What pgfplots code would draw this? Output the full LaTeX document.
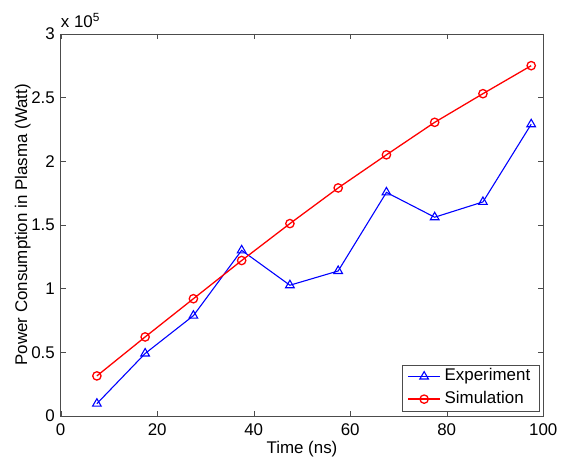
\documentclass[border=0pt]{standalone}
\usepackage{fontspec}
\setmainfont{Liberation Sans}
\usepackage{pgfplots}
\pgfplotsset{compat=1.18}

\begin{document}
\fontsize{17}{20}\selectfont
\begin{tikzpicture}
\begin{axis}[
  scale only axis,
  width=485pt, height=384pt,
  xmin=0, xmax=100, ymin=0, ymax=300000,
  xtick={0,20,40,60,80,100},
  ytick={0,50000,100000,150000,200000,250000,300000},
  scaled y ticks=base 10:-5,
  ytick scale label code/.code={x 10\textsuperscript{5}},
  every y tick scale label/.style={at={(rel axis cs:0,1)},anchor=base west,inner sep=0pt,yshift=6pt},
  /pgf/number format/assume math mode=true,
  tick label style={font=\fontsize{17}{20}\selectfont},
  xticklabel style={yshift=-2pt},
  tick align=inside,
  major tick length=5pt,
  axis line style={black!70},
  tick style={black!70},
  xlabel={Time (ns)},
  ylabel={Power Consumption in Plasma (Watt)},
  xlabel style={at={(axis description cs:0.5,0)},anchor=base,yshift=-38pt},
  ylabel style={at={(axis description cs:-0.062,0.5)},anchor=south,rotate=0,inner sep=0pt},
  legend style={at={(rel axis cs:0.992,0.013)},anchor=south east,
    draw=black!70, font=\fontsize{17}{20}\selectfont,
    inner xsep=5pt, inner ysep=0.3pt, /tikz/column sep=0pt, /tikz/row sep=0pt,
    nodes={text height=12.5pt, text depth=3.6pt, inner ysep=3.3pt, inner xsep=4pt}},
  legend cell align=left,
  legend image code/.code={
    \draw[mark repeat=2,mark phase=2,#1] plot coordinates {(0pt,0pt) (16pt,0pt) (32pt,0pt)};
  },
]
\addplot[blue, line width=1.1pt, mark=triangle, mark size=5pt, mark options={solid}] coordinates {
 (7.5,9600) (17.5,49000) (27.5,78700) (37.5,130000) (47.5,102600)
 (57.5,113800) (67.5,175500) (77.5,156000) (87.5,168000) (97.5,229000)
};
\addlegendentry{Experiment}
\addplot[red, line width=1.3pt, mark=o, mark size=4.2pt] coordinates {
 (7.5,31400) (17.5,62000) (27.5,92000) (37.5,122000) (47.5,151000)
 (57.5,179000) (67.5,205000) (77.5,230500) (87.5,253000) (97.5,275000)
};
\addlegendentry{Simulation}
\end{axis}
\path ([xshift=-61pt,yshift=-42pt]current axis.south west) rectangle ([xshift=17pt,yshift=34pt]current axis.north east);
\end{tikzpicture}
\end{document}
